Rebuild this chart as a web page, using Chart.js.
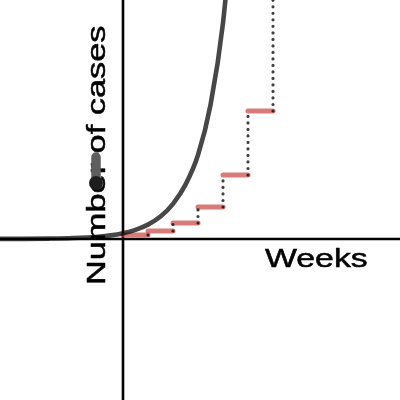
<!DOCTYPE html>
<html>
<head>
<meta charset="utf-8">
<script src="https://cdn.jsdelivr.net/npm/chart.js@4/dist/chart.umd.min.js"></script>
<style>
html,body{margin:0;padding:0;background:#fff;}
#wrap{width:400px;height:400px;}
</style>
</head>
<body>
<div id="wrap"><canvas id="c" width="400" height="400"></canvas></div>
<script>
// ---- data ----
const weeks = [0, 1, 2, 3, 4, 5, 6];
const cases = [1, 2, 4, 8, 16, 32, 64];          // case count held over each week
const curveWeeks = [-4.92, -4, -3, -2, -1, -0.5, 0, 0.5, 1, 1.5, 2, 2.5, 3, 3.5, 4, 4.5];
const curveCases = [0.03, 0.04, 0.1, 0.24, 0.58, 0.9, 1.45, 2.3, 3.6, 5.6, 8.8, 13.6, 21, 33.5, 54, 88];
const markerWeek = [-1.08];
const markerRange = [20.5, 14.75];
const markerPoint = [14];
const xLabel = "Weeks";
const yLabel = "Number of cases";

// ---- view window ----
const xMin = -4.92, xMax = 11.08, yMin = -40.25, yMax = 59.75;

const datasets = [];
// axes
datasets.push({data:[{x:xMin,y:0},{x:xMax,y:0}], borderColor:'#000', borderWidth:2.6, order:10});
datasets.push({data:[{x:0,y:yMin},{x:0,y:yMax}], borderColor:'#000', borderWidth:2.6, order:10});
// red steps
for (let i = 0; i < weeks.length - 1; i++) {
  datasets.push({data:[{x:weeks[i],y:cases[i]},{x:weeks[i+1],y:cases[i]}],
    borderColor:'rgba(199,68,64,0.7)', borderWidth:5, borderCapStyle:'round', order:8});
}
// dotted risers
for (let i = 1; i < weeks.length; i++) {
  datasets.push({data:[{x:weeks[i],y:cases[i-1]},{x:weeks[i],y:cases[i]}],
    borderColor:'rgba(0,0,0,0.75)', borderWidth:3.2, borderCapStyle:'round',
    borderDash:[0.01, 6.5], order:6});
}
// exponential curve
datasets.push({data: curveWeeks.map((w,i)=>({x:w,y:curveCases[i]})),
  borderColor:'rgba(0,0,0,0.72)', borderWidth:4.6, cubicInterpolationMode:'monotone', order:4});
// grey marker bar + dot
datasets.push({data:[{x:markerWeek[0],y:markerRange[0]},{x:markerWeek[0],y:markerRange[1]}],
  borderColor:'#5e5e5e', borderWidth:9.5, borderCapStyle:'round', order:2});
datasets.push({data:[{x:markerWeek[0],y:markerPoint[0]}], showLine:false,
  pointRadius:7, pointBackgroundColor:'#1e1e1e', pointBorderWidth:0, order:1});

const labelPlugin = {
  id:'labels',
  beforeDatasetsDraw(chart){
    const ctx = chart.ctx;
    ctx.save();
    ctx.fillStyle = '#000';
    ctx.strokeStyle = '#000';
    ctx.lineWidth = 0.5;
    ctx.font = '26px "Liberation Sans", Arial, sans-serif';
    ctx.textAlign = 'left';
    ctx.textBaseline = 'alphabetic';
    // x label
    ctx.save();
    ctx.translate(265, 267);
    ctx.scale(1.3, 1);
    ctx.fillText(xLabel, 0, 0);
    ctx.strokeText(xLabel, 0, 0);
    ctx.restore();
    // y label (rotated)
    ctx.save();
    ctx.translate(105, 285);
    ctx.rotate(-Math.PI/2);
    ctx.scale(1.32, 1);
    ctx.fillText(yLabel, 0, 0);
    ctx.strokeText(yLabel, 0, 0);
    ctx.restore();
    ctx.restore();
  }
};

new Chart(document.getElementById('c'), {
  type:'scatter',
  data:{datasets: datasets.map(d => Object.assign({showLine:true, pointRadius:0, fill:false}, d))},
  options:{
    responsive:false,
    animation:false,
    devicePixelRatio:1,
    events:[],
    layout:{padding:0, autoPadding:false},
    plugins:{legend:{display:false}, tooltip:{enabled:false}, title:{display:false}},
    scales:{
      x:{type:'linear', min:xMin, max:xMax, display:false},
      y:{type:'linear', min:yMin, max:yMax, display:false}
    }
  },
  plugins:[labelPlugin]
});
</script>
</body>
</html>
